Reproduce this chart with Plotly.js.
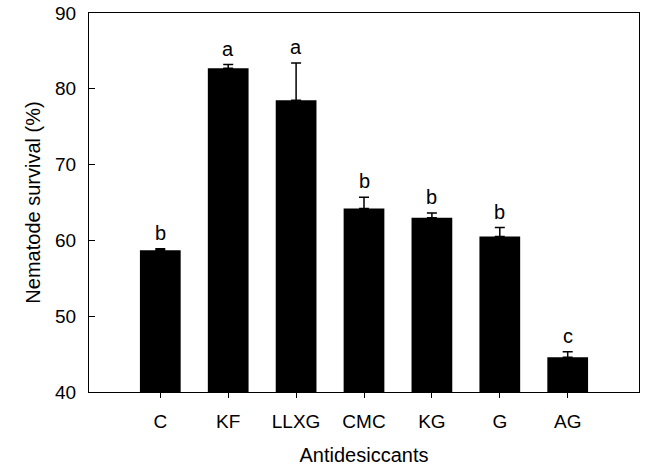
<!DOCTYPE html>
<html>
<head>
<meta charset="utf-8">
<script src="https://cdn.plot.ly/plotly-3.0.1.min.js"></script>
<style>html,body{margin:0;padding:0;background:#fff;}#chart{width:649px;height:476px;}</style>
</head>
<body>
<div id="chart"></div>
<script>
const categories = ["C", "KF", "LLXG", "CMC", "KG", "G", "AG"];
const survival = [58.7, 82.7, 78.5, 64.2, 63.0, 60.5, 44.6];
const errorPlus = [0.2, 0.5, 4.9, 1.5, 0.6, 1.2, 0.7];
const letters = ["b", "a", "a", "b", "b", "b", "c"];
const yTicks = [40, 50, 60, 70, 80, 90];

const font = "Liberation Sans, Arial, sans-serif";

const trace = {
  type: "bar",
  x: categories,
  y: survival,
  width: 0.6,
  marker: {color: "#000000", line: {width: 0}},
  error_y: {
    type: "data",
    symmetric: false,
    array: errorPlus,
    arrayminus: errorPlus.map(() => 0),
    color: "#000000",
    thickness: 1.5,
    width: 5
  },
  hoverinfo: "none"
};

const annotations = categories.map((c, i) => ({
  x: c,
  y: survival[i] + errorPlus[i],
  text: letters[i],
  showarrow: false,
  yanchor: "bottom",
  yshift: 3,
  font: {family: font, size: 20, color: "#000"}
}));

const layout = {
  width: 649,
  height: 476,
  margin: {l: 89, r: 10, t: 13, b: 84},
  paper_bgcolor: "#fff",
  plot_bgcolor: "#fff",
  showlegend: false,
  xaxis: {
    type: "category",
    range: [-1.05, 7.05],
    showline: true,
    mirror: true,
    linecolor: "#000",
    linewidth: 1,
    ticks: "outside",
    ticklen: 5,
    tickcolor: "#000",
    ticklabelstandoff: 7,
    showgrid: false,
    zeroline: false,
    tickfont: {family: font, size: 19, color: "#000"},
    title: {text: "Antidesiccants", font: {family: font, size: 20, color: "#000"}, standoff: 17}
  },
  yaxis: {
    range: [40, 90],
    tickvals: yTicks,
    ticktext: yTicks.map(String),
    showline: true,
    mirror: true,
    linecolor: "#000",
    linewidth: 1,
    ticks: "inside",
    ticklen: 6,
    tickcolor: "#000",
    ticklabelstandoff: 8,
    showgrid: false,
    zeroline: false,
    tickfont: {family: font, size: 19, color: "#000"},
    title: {text: "Nematode survival (%)", font: {family: font, size: 20, color: "#000"}, standoff: 9}
  },
  annotations: annotations
};

Plotly.newPlot("chart", [trace], layout, {displayModeBar: false, staticPlot: true});
</script>
</body>
</html>
